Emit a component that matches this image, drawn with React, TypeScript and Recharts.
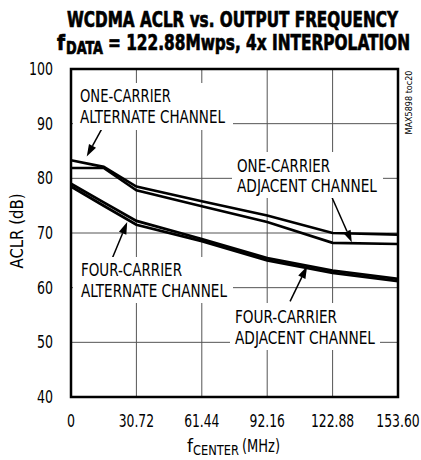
import React from "react";
import { CartesianGrid, Line, LineChart, ReferenceArea, ReferenceLine, XAxis, YAxis } from "recharts";

// center frequency (MHz) and ACLR (dB)
const freqMHz = [0, 15.36, 30.72, 61.44, 92.16, 122.88, 153.6];
const oneCarrierAlt = [83.3, 82.1, 78.5, 75.8, 73.2, 70.0, 69.7];
const oneCarrierAdj = [81.9, 81.9, 77.8, 74.9, 72.0, 68.2, 68.0];
const fourCarrierAlt = [79.0, 75.6, 72.2, 68.9, 65.4, 63.1, 61.6];
const fourCarrierAdj = [78.5, 75.0, 71.5, 68.5, 65.0, 62.7, 61.2];

const xTicks = [0, 30.72, 61.44, 92.16, 122.88, 153.6];
const xTickLabels = ["0", "30.72", "61.44", "92.16", "122.88", "153.60"];
const yTicks = [40, 50, 60, 70, 80, 90, 100];

// arrows: [tail, tip] in data units
const arrows = [
  [{ x: 14.4, y: 89.0 }, { x: 7.4, y: 84.0 }],
  [{ x: 19.1, y: 65.1 }, { x: 26.4, y: 72.0 }],
  [{ x: 122.6, y: 76.5 }, { x: 131.9, y: 68.3 }],
  [{ x: 102.9, y: 57.5 }, { x: 110.9, y: 63.9 }],
];

const rows = freqMHz.map((f, i) => ({
  f,
  oneAlt: oneCarrierAlt[i],
  oneAdj: oneCarrierAdj[i],
  fourAlt: fourCarrierAlt[i],
  fourAdj: fourCarrierAdj[i],
}));

const NARROW = "'Liberation Sans Narrow', 'Arial Narrow', 'DejaVu Sans Condensed', sans-serif";
const HEAVY = "'DejaVu Sans Condensed', 'Liberation Sans Narrow', sans-serif";

// width the narrow face would give (digits ~8px, dot ~3.3px at 17px)
const narrowWidth = (s: string) =>
  s.split("").reduce((w, c) => w + (c === "." ? 3.3 : 8), 0);

const XTick = (props: any) => {
  const { x, y, payload } = props;
  const i = xTicks.indexOf(payload.value);
  const label = i >= 0 ? xTickLabels[i] : String(payload.value);
  return (
    <text x={x} y={y + 12} textAnchor="middle" fontFamily={NARROW} fontSize={17} fill="#000"
      textLength={narrowWidth(label)} lengthAdjust="spacingAndGlyphs">
      {label}
    </text>
  );
};

const YTick = (props: any) => {
  const { x, y, payload } = props;
  const label = String(payload.value);
  return (
    <text x={x} y={y + 6} textAnchor="end" fontFamily={NARROW} fontSize={17} fill="#000"
      textLength={narrowWidth(label)} lengthAdjust="spacingAndGlyphs">
      {label}
    </text>
  );
};

const Arrow = (props: any) => {
  const { x1, y1, x2, y2 } = props;
  const a = Math.atan2(y2 - y1, x2 - x1);
  const len = 12;
  const half = 4;
  const bx = x2 - len * Math.cos(a);
  const by = y2 - len * Math.sin(a);
  const px = -Math.sin(a) * half;
  const py = Math.cos(a) * half;
  return (
    <g>
      <line x1={x1} y1={y1} x2={bx} y2={by} stroke="#000" strokeWidth={1.5} />
      <polygon points={`${x2},${y2} ${bx + px},${by + py} ${bx - px},${by - py}`} fill="#000" />
    </g>
  );
};

type Note = { box: [number, number, number, number]; x: number; lines: [string, number, number][] };

const notes: Note[] = [
  { box: [73, 83, 160, 47], x: 80, lines: [["ONE-CARRIER", 102, 91], ["ALTERNATE CHANNEL", 123, 145]] },
  { box: [232, 152, 151, 46], x: 237, lines: [["ONE-CARRIER", 172, 93], ["ADJACENT CHANNEL", 192, 140]] },
  { box: [73, 257, 160, 46], x: 81, lines: [["FOUR-CARRIER", 276, 101], ["ALTERNATE CHANNEL", 297, 146]] },
  { box: [230, 303, 150, 47], x: 235, lines: [["FOUR-CARRIER", 323, 102], ["ADJACENT CHANNEL", 344, 140]] },
];

const titleStyle = { stroke: "#000", strokeWidth: 0.7 };

export default function App() {
  return (
    <div style={{ position: "relative", width: 421, height: 460 }}>
      <style>{`body{margin:0;background:#fff}`}</style>
      <LineChart width={421} height={460} data={rows} margin={{ top: 69, right: 23, bottom: 0, left: 0 }}>
        <CartesianGrid stroke="#555" strokeWidth={1} />
        <XAxis
          dataKey="f"
          type="number"
          domain={[0, 153.6]}
          ticks={xTicks}
          interval={0}
          height={63}
          axisLine={false}
          tickLine={false}
          tickSize={0}
          tickMargin={18}
          tick={XTick}
        />
        <YAxis
          type="number"
          domain={[40, 100]}
          ticks={yTicks}
          interval={0}
          width={71}
          axisLine={false}
          tickLine={false}
          tickSize={0}
          tickMargin={18}
          tick={YTick}
        />
        <ReferenceArea x1={0} x2={153.6} y1={40} y2={100} fill="none" fillOpacity={0} stroke="#000" strokeWidth={2.5} />
        <Line dataKey="oneAlt" type="linear" stroke="#000" strokeWidth={2.6} dot={false} isAnimationActive={false} />
        <Line dataKey="oneAdj" type="linear" stroke="#000" strokeWidth={2.6} dot={false} isAnimationActive={false} />
        <Line dataKey="fourAlt" type="linear" stroke="#000" strokeWidth={2.8} dot={false} isAnimationActive={false} />
        <Line dataKey="fourAdj" type="linear" stroke="#000" strokeWidth={2.8} dot={false} isAnimationActive={false} />
        {arrows.map((seg, i) => (
          <ReferenceLine key={i} segment={seg} shape={Arrow} />
        ))}
      </LineChart>
      <svg width={421} height={460} style={{ position: "absolute", left: 0, top: 0, pointerEvents: "none" }}>
        <text x={67} y={27} fontFamily={HEAVY} fontWeight={700} fontSize={22} style={titleStyle} textLength={331} lengthAdjust="spacingAndGlyphs">
          WCDMA ACLR vs. OUTPUT FREQUENCY
        </text>
        <text x={57} y={50} fontFamily={HEAVY} fontWeight={700} fontSize={22} style={titleStyle} textLength={8} lengthAdjust="spacingAndGlyphs">
          f
        </text>
        <text x={66} y={54} fontFamily={HEAVY} fontWeight={700} fontSize={17} style={titleStyle} textLength={37} lengthAdjust="spacingAndGlyphs">
          DATA
        </text>
        <text x={108} y={50} fontFamily={HEAVY} fontWeight={700} fontSize={22} style={titleStyle} textLength={302} lengthAdjust="spacingAndGlyphs">
          = 122.88Mwps, 4x INTERPOLATION
        </text>
        {notes.map((n, i) => (
          <g key={i}>
            <rect x={n.box[0]} y={n.box[1]} width={n.box[2]} height={n.box[3]} fill="#fff" />
            {n.lines.map(([t, y, w]) => (
              <text key={t} x={n.x} y={y} fontFamily={NARROW} fontSize={17} fill="#000" textLength={w} lengthAdjust="spacingAndGlyphs">
                {t}
              </text>
            ))}
          </g>
        ))}
        <text
          transform="translate(412,102.5) rotate(-90)"
          textAnchor="middle"
          fontFamily={NARROW}
          fontSize={9}
          textLength={64}
          lengthAdjust="spacingAndGlyphs"
        >
          MAX5898 toc20
        </text>
        <text
          transform="translate(23,231) rotate(-90)"
          textAnchor="middle"
          fontFamily={NARROW}
          fontSize={17}
          textLength={75}
          lengthAdjust="spacingAndGlyphs"
        >
          ACLR (dB)
        </text>
        <text x={187} y={452} fontFamily={NARROW} fontSize={17} textLength={6} lengthAdjust="spacingAndGlyphs">f</text>
        <text x={193} y={455} fontFamily={NARROW} fontSize={14} textLength={46} lengthAdjust="spacingAndGlyphs">CENTER</text>
        <text x={242} y={452} fontFamily={NARROW} fontSize={17} textLength={38} lengthAdjust="spacingAndGlyphs">(MHz)</text>
      </svg>
    </div>
  );
}
